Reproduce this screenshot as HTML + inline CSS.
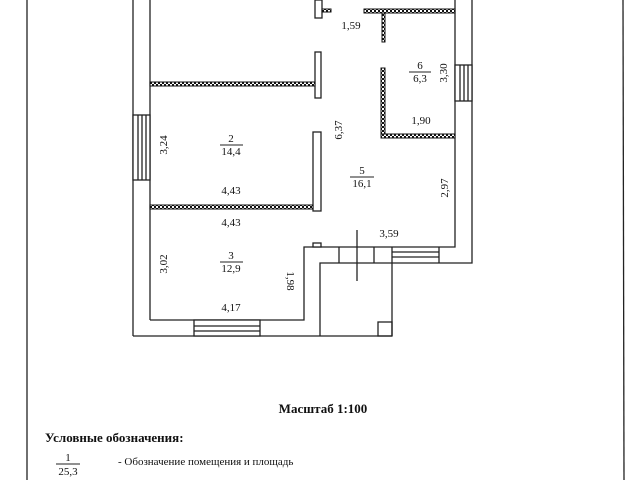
<!DOCTYPE html>
<html><head><meta charset="utf-8"><style>
html,body{margin:0;padding:0;background:#fff;}
svg{display:block;}
text{font-family:"Liberation Serif",serif;fill:#111;}
</style></head><body>
<svg width="640" height="480" viewBox="0 0 640 480" xmlns="http://www.w3.org/2000/svg">
<defs>
<pattern id="h" width="4" height="4" patternUnits="userSpaceOnUse">
<rect width="4" height="4" fill="#fff"/><rect width="2" height="2" fill="#111"/><rect x="2" y="2" width="2" height="2" fill="#111"/>
</pattern>
</defs>
<g stroke="#222" stroke-width="1.3" fill="none">
<line x1="27" y1="0" x2="27" y2="480"/>
<line x1="623" y1="0" x2="624" y2="480"/>
<line x1="133" y1="0" x2="133" y2="336"/>
<line x1="150" y1="0" x2="150" y2="320"/>
<rect x="133" y="115" width="17" height="65" fill="#fff"/>
<line x1="138" y1="115" x2="138" y2="180"/><line x1="142" y1="115" x2="142" y2="180"/><line x1="146" y1="115" x2="146" y2="180"/>
<line x1="133" y1="336" x2="392" y2="336"/>
<polyline points="150,320 304,320 304,247 455,247 455,0"/>
<rect x="194" y="320" width="66" height="16" fill="#fff"/>
<line x1="194" y1="326" x2="260" y2="326"/><line x1="194" y1="331" x2="260" y2="331"/>
<polyline points="472,0 472,263 320,263 320,336"/>
<rect x="455" y="65" width="17" height="36" fill="#fff"/>
<line x1="460" y1="65" x2="460" y2="101"/><line x1="464" y1="65" x2="464" y2="101"/><line x1="468" y1="65" x2="468" y2="101"/>
<line x1="339" y1="247" x2="339" y2="263"/>
<line x1="374" y1="247" x2="374" y2="263"/>
<line x1="392" y1="247" x2="392" y2="336"/>
<line x1="439" y1="247" x2="439" y2="263"/>
<line x1="392" y1="252" x2="439" y2="252"/><line x1="392" y1="257" x2="439" y2="257"/>
<line x1="357" y1="230" x2="357" y2="281"/>
<rect x="378" y="322" width="14" height="14"/>
<rect x="313" y="243" width="8" height="4" fill="#fff"/>
<rect x="315" y="52" width="6" height="46" fill="#fff"/>
<rect x="313" y="132" width="8" height="79" fill="#fff"/>
<rect x="315" y="0" width="7" height="18" fill="#fff"/>
</g>
<g stroke="#111" stroke-width="1">
<rect x="150" y="82" width="165" height="4" fill="url(#h)"/>
<rect x="150" y="205" width="163" height="4" fill="url(#h)"/>
<rect x="322" y="9" width="9" height="3" fill="url(#h)"/>
<rect x="364" y="9" width="91" height="4" fill="url(#h)"/>
<rect x="382" y="13" width="3" height="29" fill="url(#h)"/>
<rect x="381" y="68" width="4" height="66" fill="url(#h)"/>
<rect x="381" y="134" width="74" height="4" fill="url(#h)"/>
</g>
<g font-size="11" text-anchor="middle">
<text x="351" y="29">1,59</text>
<text x="420" y="69">6</text><line x1="409" y1="72" x2="431" y2="72" stroke="#222"/><text x="420" y="82">6,3</text>
<text transform="translate(447,73) rotate(-90)">3,30</text>
<text x="421" y="124">1,90</text>
<text transform="translate(342,130) rotate(-90)">6,37</text>
<text x="231" y="142">2</text><line x1="220" y1="145" x2="243" y2="145" stroke="#222"/><text x="231" y="155">14,4</text>
<text transform="translate(167,145) rotate(-90)">3,24</text>
<text x="362" y="174">5</text><line x1="350" y1="177" x2="374" y2="177" stroke="#222"/><text x="362" y="187">16,1</text>
<text x="231" y="194">4,43</text>
<text transform="translate(448,188) rotate(-90)">2,97</text>
<text x="231" y="226">4,43</text>
<text x="389" y="237">3,59</text>
<text x="231" y="259">3</text><line x1="220" y1="262" x2="243" y2="262" stroke="#222"/><text x="231" y="272">12,9</text>
<text transform="translate(167,264) rotate(-90)">3,02</text>
<text transform="translate(287,281) rotate(90)">1,98</text>
<text x="231" y="311">4,17</text>
</g>
<text x="323" y="413" font-size="13" font-weight="bold" text-anchor="middle">Масштаб 1:100</text>
<text x="45" y="442" font-size="13" font-weight="bold">Условные обозначения:</text>
<text x="68" y="461" font-size="11" text-anchor="middle">1</text>
<line x1="56" y1="464" x2="80" y2="464" stroke="#222"/>
<text x="68" y="475" font-size="11" text-anchor="middle">25,3</text>
<text x="118" y="465" font-size="11">- Обозначение помещения и площадь</text>
</svg>
</body></html>
